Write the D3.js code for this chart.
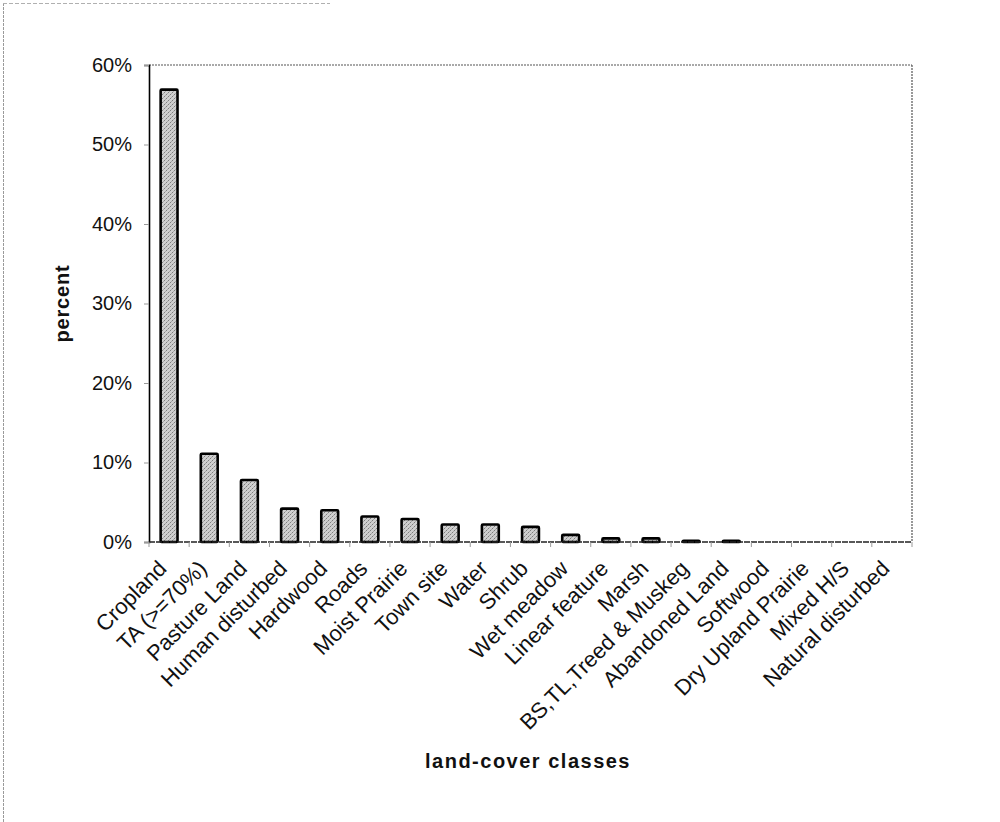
<!DOCTYPE html>
<html>
<head>
<meta charset="utf-8">
<script src="https://cdn.jsdelivr.net/npm/d3@7"></script>
<style>
  html, body { margin: 0; padding: 0; background: #fff; }
  svg { display: block; font-family: "Liberation Sans", Arial, sans-serif; }
</style>
</head>
<body>
<svg id="chart" width="1000" height="822"></svg>
<script>
// Land-cover classes and their share of the study area (percent)
const categories = [
  "Cropland", "TA (>=70%)", "Pasture Land", "Human disturbed", "Hardwood",
  "Roads", "Moist Prairie", "Town site", "Water", "Shrub", "Wet meadow",
  "Linear feature", "Marsh", "BS,TL,Treed & Muskeg", "Abandoned Land",
  "Softwood", "Dry Upland Prairie", "Mixed H/S", "Natural disturbed"
];
const percentValues = [
  56.9, 11.1, 7.8, 4.2, 4.0,
  3.2, 2.9, 2.2, 2.2, 1.9, 0.9,
  0.45, 0.45, 0.15, 0.15,
  0, 0, 0, 0
];
const yTickValues = [0, 10, 20, 30, 40, 50, 60];

const svg = d3.select("#chart");
const plot = { left: 149, right: 912, top: 65, bottom: 542 };

// Stippled grey fill for the bars
const defs = svg.append("defs");
const pat = defs.append("pattern")
  .attr("id", "stipple").attr("patternUnits", "userSpaceOnUse")
  .attr("width", 4).attr("height", 4);
pat.append("rect").attr("width", 4).attr("height", 4).attr("fill", "#cfcfcf");
pat.append("rect").attr("x", 0).attr("y", 0).attr("width", 1).attr("height", 1).attr("fill", "#7e7e7e");
pat.append("rect").attr("x", 2).attr("y", 2).attr("width", 1).attr("height", 1).attr("fill", "#7e7e7e");
pat.append("rect").attr("x", 3).attr("y", 1).attr("width", 1).attr("height", 1).attr("fill", "#a8a8a8");
pat.append("rect").attr("x", 1).attr("y", 3).attr("width", 1).attr("height", 1).attr("fill", "#a8a8a8");

// Faint outer chart border (left and top)
svg.append("line").attr("x1", 3.5).attr("x2", 3.5).attr("y1", 3).attr("y2", 822)
  .attr("stroke", "#9a9a9a").attr("stroke-width", 1).attr("stroke-dasharray", "3,1");
svg.append("line").attr("x1", 3).attr("x2", 330).attr("y1", 3.5).attr("y2", 3.5)
  .attr("stroke", "#b0b0b0").attr("stroke-width", 1).attr("stroke-dasharray", "4,2");

const x = d3.scaleBand()
  .domain(categories)
  .range([plot.left, plot.right])
  .paddingInner(0.58).paddingOuter(0.29);

const y = d3.scaleLinear()
  .domain([0, 60])
  .range([plot.bottom, plot.top]);

// Plot area frame: top and right edges dotted grey
svg.append("line").attr("x1", plot.left).attr("x2", plot.right)
  .attr("y1", plot.top).attr("y2", plot.top)
  .attr("stroke", "#555").attr("stroke-width", 1.2).attr("stroke-dasharray", "2,1");
svg.append("line").attr("x1", plot.right).attr("x2", plot.right)
  .attr("y1", plot.top).attr("y2", plot.bottom)
  .attr("stroke", "#555").attr("stroke-width", 1.2).attr("stroke-dasharray", "2,1");

// Bars
svg.append("g").selectAll("rect")
  .data(categories.map((c, i) => ({ c, v: percentValues[i] })))
  .join("rect")
  .attr("x", d => x(d.c))
  .attr("y", d => y(d.v))
  .attr("width", x.bandwidth())
  .attr("height", d => y(0) - y(d.v))
  .attr("fill", "url(#stipple)")
  .attr("stroke", "#000")
  .attr("stroke-width", 2.6)
  .attr("rx", 1);

// Y axis
const yAxis = d3.axisLeft(y)
  .tickValues(yTickValues)
  .tickFormat(d => d + "%")
  .tickSize(5)
  .tickPadding(12);
const gy = svg.append("g").attr("transform", `translate(${plot.left},0)`).call(yAxis);
gy.select(".domain").attr("stroke", "#000").attr("stroke-width", 1.6);
gy.selectAll(".tick line").attr("stroke", "#999").attr("stroke-width", 1);
gy.selectAll(".tick text")
  .attr("font-size", 20).attr("fill", "#111")
  .attr("font-family", "'Liberation Sans', Arial, sans-serif");

// X axis: baseline with ticks between categories
svg.append("line").attr("x1", plot.left).attr("x2", plot.right)
  .attr("y1", y(0)).attr("y2", y(0))
  .attr("stroke", "#222").attr("stroke-width", 1.6).attr("stroke-dasharray", "6,1");
const step = x.step();
const boundaries = d3.range(categories.length + 1).map(i => plot.left + i * step);
svg.append("g").selectAll("line")
  .data(boundaries)
  .join("line")
  .attr("x1", d => d).attr("x2", d => d)
  .attr("y1", y(0)).attr("y2", y(0) + 5)
  .attr("stroke", "#999").attr("stroke-width", 1);

// Rotated category labels
svg.append("g").selectAll("text")
  .data(categories)
  .join("text")
  .attr("transform", d => `translate(${x(d) + x.bandwidth() / 2 - 12},${plot.bottom + 17}) rotate(-45)`)
  .attr("text-anchor", "end")
  .attr("dy", "0.7em")
  .attr("font-size", 22)
  .attr("fill", "#111")
  .text(d => d);

// Axis titles
svg.append("text")
  .attr("transform", `translate(69,${(plot.top + plot.bottom) / 2}) rotate(-90)`)
  .attr("text-anchor", "middle")
  .attr("font-size", 20).attr("font-weight", "bold").attr("fill", "#111")
  .attr("letter-spacing", 0.8)
  .text("percent");

svg.append("text")
  .attr("x", 528).attr("y", 768)
  .attr("text-anchor", "middle")
  .attr("font-size", 20).attr("font-weight", "bold").attr("fill", "#111")
  .attr("letter-spacing", 1.5)
  .text("land-cover classes");
</script>
</body>
</html>
